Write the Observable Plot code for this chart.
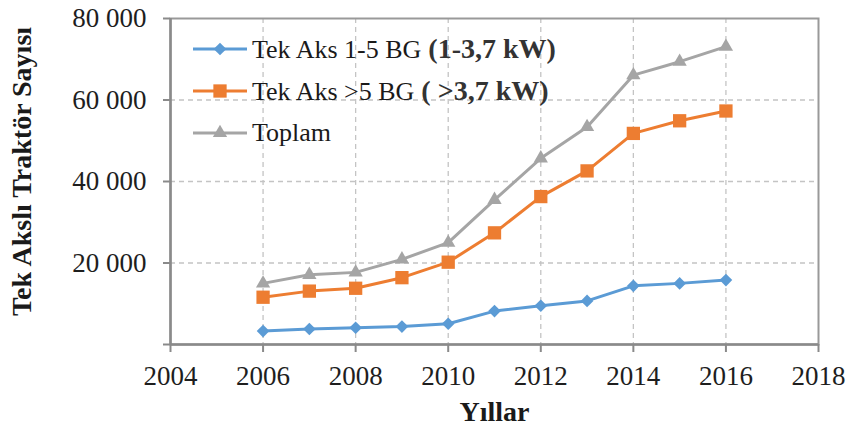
<!DOCTYPE html>
<html>
<head>
<meta charset="utf-8">
<script src="https://cdn.jsdelivr.net/npm/d3@7"></script>
<script src="https://cdn.jsdelivr.net/npm/@observablehq/plot@0.6"></script>
<style>
  html, body { margin: 0; padding: 0; background: #fff; }
  #wrap { position: relative; width: 846px; height: 430px; overflow: hidden; }
  #wrap svg { display: block; }
  #legend { position: absolute; left: 193px; top: 28px; font-family: 'Liberation Serif', 'Times New Roman', serif; }
  .row { display: flex; align-items: center; height: 42px; }
  .row svg { flex: none; }
  .lab { margin-left: 5px; white-space: pre; line-height: 1; color: #1a1a1a; font-size: 26px; }
  .lab b { font-size: 28px; color: #333; }
</style>
</head>
<body>
<div id="wrap"><div id="legend"></div></div>
<script>
// ---- data ----
const years   = [2006, 2007, 2008, 2009, 2010, 2011, 2012, 2013, 2014, 2015, 2016];
const aks1_5  = [3300, 3800, 4100, 4400, 5100, 8200, 9500, 10700, 14400, 15000, 15800];
const aksGt5  = [11600, 13100, 13800, 16400, 20200, 27400, 36300, 42600, 51800, 54900, 57300];
const toplam  = [15000, 17100, 17700, 20900, 25000, 35500, 45700, 53400, 66100, 69400, 73100];
const seriesNames = ["Tek Aks 1-5 BG", "Tek Aks >5 BG", "Toplam"];
const seriesNotes = ["(1-3,7 kW)", "( >3,7 kW)", ""];
const xTicks = [2004, 2006, 2008, 2010, 2012, 2014, 2016, 2018];
const yTicks = [0, 20000, 40000, 60000, 80000];
const xTitle = "Yıllar";
const yTitle = "Tek Akslı Traktör Sayısı";

const colors  = ["#5B9BD5", "#ED7D31", "#A5A5A5"];
const symbols = ["diamond2", "square", "triangle"];
const radii   = [5.7, 7.5, 5.3];

const rows = years.map((yr, i) => ({year: yr, a: aks1_5[i], b: aksGt5[i], t: toplam[i]}));
const keys = ["a", "b", "t"];

const fmtY = d => d === 0 ? "" : d3.format(",")(d).replace(/,/g, " ");
const gridStyle = {stroke: "#c4c4c4", strokeOpacity: 1, strokeWidth: 1.3, strokeDasharray: "5,4"};

const seriesMarks = keys.flatMap((k, i) => [
  Plot.line(rows, {x: "year", y: k, stroke: colors[i], strokeWidth: 3}),
  Plot.dot(rows, {x: "year", y: k, symbol: symbols[i], r: radii[i], fill: colors[i], stroke: "none"})
]);

const chart = Plot.plot({
  width: 846,
  height: 430,
  marginLeft: 170,
  marginRight: 28,
  marginTop: 18,
  marginBottom: 86,
  style: {fontFamily: "'Liberation Serif', 'Times New Roman', serif", fontSize: "27px", color: "#1e1e1e", background: "#fff"},
  x: {domain: [2004, 2018]},
  y: {domain: [0, 80000]},
  marks: [
    Plot.gridX(xTicks.slice(1, -1), gridStyle),
    Plot.gridY(yTicks.slice(1, -1), gridStyle),
    Plot.frame({stroke: "#999", strokeWidth: 2}),
    Plot.axisX({ticks: xTicks, tickFormat: d => String(d), tickSize: 8, tickPadding: 13, stroke: "#8a8a8a", strokeWidth: 2, label: null}),
    Plot.axisY({ticks: yTicks, tickFormat: fmtY, tickSize: 7, tickPadding: 17, stroke: "#8a8a8a", strokeWidth: 2, label: null}),
    Plot.ruleX([2004], {stroke: "#8a8a8a", strokeWidth: 2.5}),
    Plot.ruleY([0], {stroke: "#8a8a8a", strokeWidth: 2.5}),
    ...seriesMarks,
    Plot.text([yTitle], {text: d => d, frameAnchor: "left", textAnchor: "middle", lineAnchor: "middle", dx: -148, dy: -10, rotate: -90, fontWeight: "bold", fontSize: 28, fill: "#1a1a1a"}),
    Plot.text([xTitle], {text: d => d, frameAnchor: "bottom", textAnchor: "middle", lineAnchor: "middle", dy: 68, fontWeight: "bold", fontSize: 28, fill: "#1a1a1a"})
  ]
});
document.getElementById("wrap").prepend(chart);

// ---- legend (HTML overlay) ----
const legend = d3.select("#legend");
seriesNames.forEach((name, i) => {
  const row = legend.append("div").attr("class", "row");
  const sw = row.append("svg").attr("width", 54).attr("height", 20);
  sw.append("line").attr("x1", 0).attr("x2", 54).attr("y1", 10).attr("y2", 10)
    .attr("stroke", colors[i]).attr("stroke-width", 3);
  const sym = {diamond2: d3.symbolDiamond2, square: d3.symbolSquare, triangle: d3.symbolTriangle}[symbols[i]];
  sw.append("path").attr("transform", "translate(27,10)")
    .attr("d", d3.symbol(sym, Math.PI * radii[i] * radii[i])())
    .attr("fill", colors[i]);
  const lab = row.append("span").attr("class", "lab").text(name);
  if (seriesNotes[i]) lab.append("b").text(" " + seriesNotes[i]);
});
</script>
</body>
</html>
